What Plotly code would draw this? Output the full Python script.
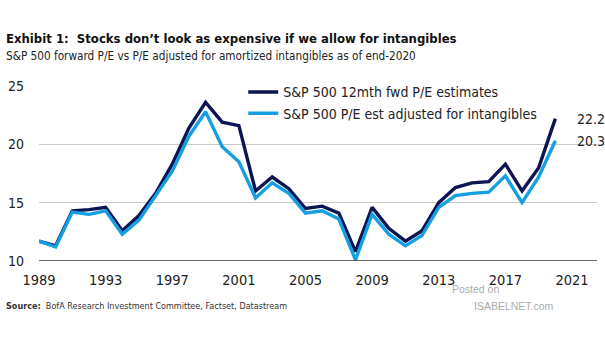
import plotly.graph_objects as go

years = list(range(1989, 2021))
fwd_pe = [11.7, 11.3, 14.3, 14.4, 14.6, 12.6, 13.9, 15.8, 18.3, 21.4, 23.6, 21.9,
          21.6, 16.0, 17.2, 16.2, 14.5, 14.7, 14.1, 10.8, 14.6, 12.8, 11.7, 12.6,
          15.0, 16.3, 16.7, 16.8, 18.3, 16.0, 18.0, 22.2]
adj_pe = [11.7, 11.2, 14.2, 14.0, 14.3, 12.3, 13.5, 15.6, 17.7, 20.7, 22.8, 19.8,
          18.5, 15.4, 16.7, 15.8, 14.1, 14.3, 13.6, 10.1, 14.0, 12.3, 11.3, 12.2,
          14.6, 15.6, 15.8, 15.9, 17.3, 15.0, 17.2, 20.3]
series_names = ["S&P 500 12mth fwd P/E estimates", "S&P 500 P/E est adjusted for intangibles"]
x_ticks = [1989, 1993, 1997, 2001, 2005, 2009, 2013, 2017, 2021]
y_ticks = [10, 15, 20, 25]

NAVY = "#0c1452"
SKY = "#149fe3"
FONT = "DejaVu Sans Condensed, Liberation Sans Narrow, Lato, sans-serif"

fig = go.Figure()
fig.add_trace(go.Scatter(x=years, y=fwd_pe, mode="lines", name=series_names[0],
                         line=dict(color=NAVY, width=3.4)))
fig.add_trace(go.Scatter(x=years, y=adj_pe, mode="lines", name=series_names[1],
                         line=dict(color=SKY, width=3.4)))

# end-of-series value labels
for val in (fwd_pe[-1], adj_pe[-1]):
    fig.add_annotation(x=2021.2, y=val, text=f"{val:.1f}", showarrow=False,
                       xanchor="left", yanchor="middle",
                       font=dict(size=14, color="#222", family=FONT))

# heading and subheading
fig.add_annotation(xref="paper", yref="paper", x=-0.062, y=1.0, yshift=48,
                   text="<b>Exhibit 1:  Stocks don\u2019t look as expensive if we allow for intangibles</b>",
                   showarrow=False, xanchor="left", yanchor="middle",
                   font=dict(size=13, color="#111", family=FONT))
fig.add_annotation(xref="paper", yref="paper", x=-0.062, y=1.0, yshift=30,
                   text="S&P 500 forward P/E vs P/E adjusted for amortized intangibles as of end-2020",
                   showarrow=False, xanchor="left", yanchor="middle",
                   font=dict(size=11.7, color="#222", family=FONT))
# source note
fig.add_annotation(xref="paper", yref="paper", x=-0.062, y=0.0, yshift=-45,
                   text="<b>Source:</b>  BofA Research Investment Committee, Factset, Datastream",
                   showarrow=False, xanchor="left", yanchor="middle",
                   font=dict(size=9, color="#333", family=FONT))
# watermark
fig.add_annotation(xref="paper", yref="paper", x=0.783, y=0.0, yshift=-28,
                   text="Posted on", showarrow=False, xanchor="center", yanchor="middle",
                   font=dict(size=10.5, color="#aaaaaa", family="Liberation Sans, Arial"))
fig.add_annotation(xref="paper", yref="paper", x=0.851, y=0.0, yshift=-45,
                   text="ISABELNET.com", showarrow=False, xanchor="center", yanchor="middle",
                   font=dict(size=10.5, color="#aaaaaa", family="Liberation Sans, Arial"))

fig.update_layout(
    width=605, height=341,
    margin=dict(l=39, r=8, t=86, b=80),
    paper_bgcolor="white", plot_bgcolor="white",
    font=dict(family=FONT, color="#222", size=14),
    showlegend=True,
    legend=dict(x=0.366, y=1.055, xanchor="left", yanchor="top",
                bgcolor="rgba(0,0,0,0)", font=dict(size=14, family=FONT),
                tracegroupgap=0, itemwidth=30),
    xaxis=dict(range=[1989, 2022.5], tickvals=x_ticks, showgrid=False, zeroline=False,
               showline=False, ticks="", ticklabelstandoff=8, tickfont=dict(size=14.5)),
    yaxis=dict(range=[10, 25], tickvals=y_ticks, showgrid=True, gridcolor="#c9c9c9",
               gridwidth=1, zeroline=False, showline=False, ticks="",
               ticklabelstandoff=14, tickfont=dict(size=14)),
)
# dark baseline
fig.add_shape(type="line", xref="paper", yref="y", x0=0, x1=1, y0=10, y1=10,
              line=dict(color="#333333", width=1.6))

fig.write_html("out.html")
